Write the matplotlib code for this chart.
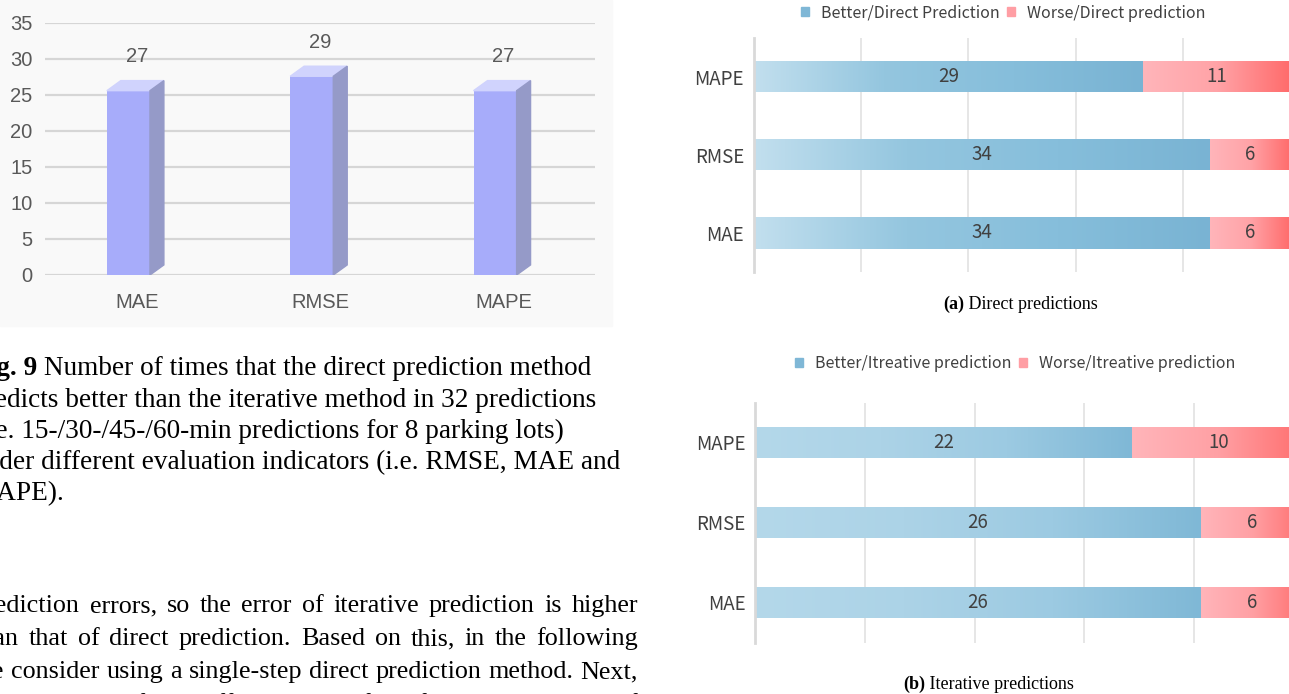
import matplotlib
matplotlib.use('Agg')
import matplotlib.pyplot as plt
from matplotlib.colors import LinearSegmentedColormap
from matplotlib.patches import Polygon, Rectangle, Patch
from matplotlib.font_manager import FontProperties
import numpy as np

W, H = 1289, 694

# left chart: times direct beats iterative
metrics = ['MAE', 'RMSE', 'MAPE']
direct_wins = [27, 29, 27]

# right charts, rows from bottom to top
rows = ['MAE', 'RMSE', 'MAPE']
direct_better = [34, 34, 29]
direct_worse = [6, 6, 11]
iter_better = [26, 26, 22]
iter_worse = [6, 6, 10]

legend_a = ['Better/Direct Prediction', 'Worse/Direct prediction']
legend_b = ['Better/Itreative prediction', 'Worse/Itreative prediction']

caption_bold = 'Fig. 9'
caption_lines = [
    ' Number of times that the direct prediction method',
    'predicts better than the iterative method in 32 predictions',
    '(i.e. 15-/30-/45-/60-min predictions for 8 parking lots)',
    'under different evaluation indicators (i.e. RMSE, MAE and',
    'MAPE).',
]
para_lines = [
    'prediction errors, so the error of iterative prediction is higher',
    'than that of direct prediction. Based on this, in the following',
    'we consider using a single-step direct prediction method. Next,',
    'we need to verify the effectiveness of the fusion mechanism of',
]

fig = plt.figure(figsize=(W / 100, H / 100), dpi=100)


def fx(x):
    return x / W


def fy(y):
    return 1 - y / H


def axes_px(x0, y0, x1, y1):
    return fig.add_axes([fx(x0), fy(y1), (x1 - x0) / W, (y1 - y0) / H])


# ---------------- left 3D column chart ----------------
fig.patches.append(Rectangle((0, fy(326)), fx(612), 1 - fy(326),
                             transform=fig.transFigure, color='#f9f9f9', zorder=-10))

ax1 = axes_px(45, 23, 595, 275)
ax1.patch.set_visible(False)
for s in ax1.spines.values():
    s.set_visible(False)
ax1.set_xlim(-0.5, 2.5)
ax1.set_ylim(0, 35)
ax1.set_yticks(range(0, 36, 5))
ax1.grid(axis='y', color='#d6d6d6', linewidth=1.6)
ax1.set_axisbelow(True)
ax1.tick_params(length=0, labelsize=14.5, labelcolor='#595959')
ax1.tick_params(axis='y', pad=9)
ax1.tick_params(axis='x', pad=13, labelsize=14.5)

x = np.arange(len(metrics))
dx, dy = 0.076, 1.4
front = ax1.bar(x - 0.045, [v - dy for v in direct_wins], width=0.235,
                color='#a7acfa', zorder=3)
for b, v, c in zip(front, direct_wins, x):
    x0 = b.get_x()
    x1 = x0 + b.get_width()
    h = b.get_height()
    ax1.add_patch(Polygon([(x0, h), (x1, h), (x1 + dx, h + dy), (x0 + dx, h + dy)],
                          color='#d0d3fd', zorder=3))
    ax1.add_patch(Polygon([(x1, 0), (x1 + dx, dy), (x1 + dx, h + dy), (x1, h)],
                          color='#959ac8', zorder=3))
    ax1.text(c, v + 3.3, str(v), ha='center', va='center', fontsize=14.5,
             color='#595959', family='Liberation Sans')
ax1.set_xticks(x, metrics)
for lab in ax1.get_xticklabels() + ax1.get_yticklabels():
    lab.set_family('Liberation Sans')

# ---------------- right stacked bars ----------------
tick_font = 'Noto Sans CJK KR'


def gradient_fill(ax, bars, stops):
    cmap = LinearSegmentedColormap.from_list('g', stops)
    for bar in bars:
        x0, y0 = bar.get_x(), bar.get_y()
        im = ax.imshow(np.linspace(0, 1, 256).reshape(1, -1), cmap=cmap,
                       extent=(x0, x0 + bar.get_width(), y0, y0 + bar.get_height()),
                       aspect='auto', interpolation='bilinear', zorder=2)
        im.set_clip_path(bar)


def stacked(ax, better, worse, xmax, step, blue_stops, pink_stops):
    y = np.arange(len(rows))
    b1 = ax.barh(y, better, height=0.4, color='none', zorder=2)
    b2 = ax.barh(y, worse, left=better, height=0.4, color='none', zorder=2)
    gradient_fill(ax, b1, blue_stops)
    gradient_fill(ax, b2, pink_stops)
    for bars in (b1, b2):
        ax.bar_label(bars, label_type='center', fontsize=13.5, color='#404040',
                     family=tick_font)
    ax.set_xlim(0, xmax)
    ax.set_ylim(-0.5, 2.5)
    ax.set_xticks(np.arange(0, xmax + 0.01, step))
    ax.set_yticks(y, rows)
    ax.tick_params(axis='x', length=0, labelbottom=False)
    ax.tick_params(axis='y', length=0, pad=7, labelsize=13.5, labelcolor='#404040')
    for lab in ax.get_yticklabels():
        lab.set_family(tick_font)
    ax.grid(axis='x', color='#e6e6e6', linewidth=1.4)
    ax.set_axisbelow(True)
    for k in ('top', 'right', 'bottom'):
        ax.spines[k].set_visible(False)
    ax.spines['left'].set_color('#d9d9d9')
    ax.spines['left'].set_linewidth(2)


axa = axes_px(753.7, 37.5, 1290.5, 272)
stacked(axa, direct_better, direct_worse, 40, 8,
        ['#c2dfee', '#94c6df', '#86bedb', '#79b3d3'],
        ['#ffb5ba', '#ffa3a7', '#ff6b6b'])

axb = axes_px(755, 402.5, 1304, 642.5)
stacked(axb, iter_better, iter_worse, 32, 6.4,
        ['#b4d8ea', '#acd3e7', '#9ccae2', '#7fb8d6'],
        ['#ffb5ba', '#ffa0a4', '#ff6f6f'])

leg_handles = [Patch(color='#7fb7d6'), Patch(color='#ff9ea4')]
for labels, cx, cy in ((legend_a, 1003.5, 13), (legend_b, 1015, 364)):
    fig.legend(leg_handles, labels, loc='center', bbox_to_anchor=(fx(cx), fy(cy)),
               ncol=2, frameon=False, handlelength=0.5, handleheight=0.5,
               handletextpad=0.75, columnspacing=0.45, labelcolor='#404040',
               prop={'family': tick_font, 'size': 11.5})

# ---------------- page text ----------------
renderer = fig.canvas.get_renderer()
serif = 'Liberation Serif'


def text_width(s, size, weight='normal'):
    fp = FontProperties(family=serif, size=size, weight=weight)
    return renderer.get_text_width_height_descent(s, fp, ismath=False)[0]


# sub-captions
for tag, rest, x0, base in (('(a)', ' Direct predictions', 943, 309),
                            ('(b)', ' Iterative predictions', 903, 689)):
    fig.text(fx(x0), fy(base), tag, fontsize=13, weight='bold', family=serif,
             va='baseline')
    fig.text(fx(x0 + text_width(tag, 13, 'bold')), fy(base), rest, fontsize=13,
             family=serif, va='baseline')

# figure caption, left cut off by the page crop
cap_size = 19.6
cap_left = -28
cap_base = [375, 407, 438, 469, 500]
fig.text(fx(cap_left), fy(cap_base[0]), caption_bold, fontsize=cap_size,
         weight='bold', family=serif, va='baseline')
fig.text(fx(cap_left + text_width(caption_bold, cap_size, 'bold')), fy(cap_base[0]),
         caption_lines[0], fontsize=cap_size, family=serif, va='baseline')
for line, base in zip(caption_lines[1:], cap_base[1:]):
    fig.text(fx(cap_left), fy(base), line, fontsize=cap_size, family=serif,
             va='baseline')

# justified body paragraph
para_size = 18.8
para_base = [612, 645, 678, 711]
left, right = -26, 638
for line, base in zip(para_lines, para_base):
    words = line.split()
    widths = [text_width(w, para_size) for w in words]
    gap = (right - left - sum(widths)) / (len(words) - 1)
    xpos = left
    for w, wd in zip(words, widths):
        fig.text(fx(xpos), fy(base), w, fontsize=para_size, family=serif,
                 va='baseline')
        xpos += wd + gap

fig.savefig('out.png', dpi=100)
